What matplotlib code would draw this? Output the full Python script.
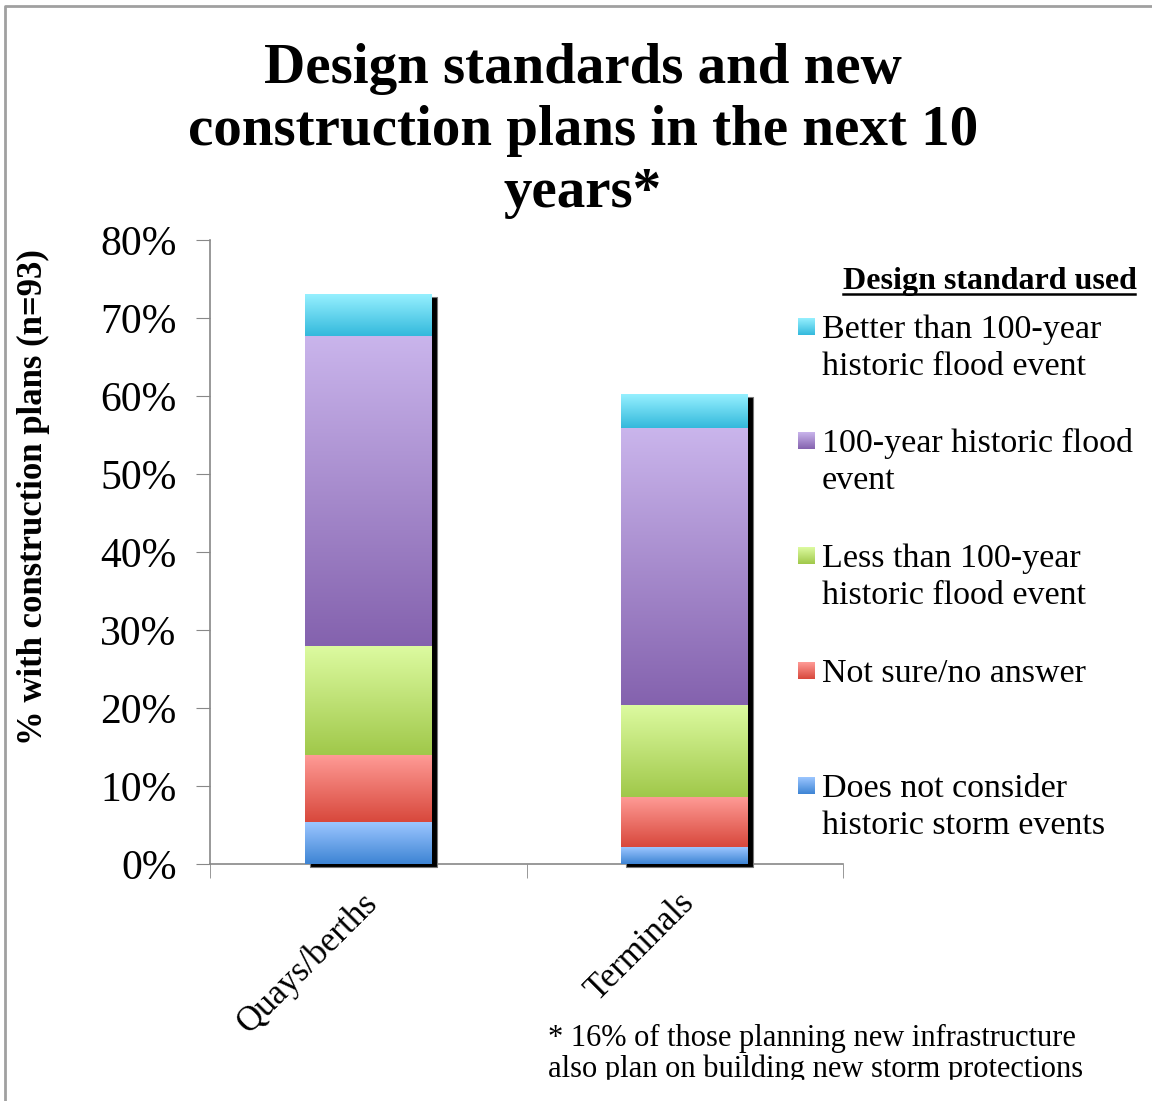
import numpy as np
import matplotlib
matplotlib.use("Agg")
import matplotlib.pyplot as plt
from matplotlib.colors import LinearSegmentedColormap
from matplotlib.transforms import offset_copy, ScaledTranslation
from matplotlib.ticker import FuncFormatter, FixedLocator

# data (percent of n=93)
categories = ["Quays/berths", "Terminals"]
does_not_consider = [5.38, 2.15]
not_sure = [8.60, 6.45]
less_than_100 = [13.98, 11.83]
equal_100 = [39.78, 35.48]
better_than_100 = [5.38, 4.30]

series = [does_not_consider, not_sure, less_than_100, equal_100, better_than_100]
series_labels = [
    "Does not consider\nhistoric storm events",
    "Not sure/no answer",
    "Less than 100-year\nhistoric flood event",
    "100-year historic flood\nevent",
    "Better than 100-year\nhistoric flood event",
]
# gradient colours: (top, bottom)
series_colors = [
    ("#9CC6FF", "#3D84D4"),
    ("#FF9C97", "#D8483C"),
    ("#DDFBA1", "#A0C84A"),
    ("#CAB5EC", "#8462AE"),
    ("#96F0FF", "#33B9DC"),
]

FONT = "Liberation Serif"
W, H = 1152, 1101
fig = plt.figure(figsize=(W / 100, H / 100), dpi=100)
ax = fig.add_axes([210 / W, 1 - 864 / H, 633 / W, 624 / H])

GRAD = np.linspace(0, 1, 256).reshape(-1, 1)


def gradient_rect(axis, x0, y0, w, h, c_top, c_bot, z=3):
    cmap = LinearSegmentedColormap.from_list("g", [c_bot, c_top])
    axis.imshow(GRAD, cmap=cmap, origin="lower", aspect="auto",
                extent=[x0, x0 + w, y0, y0 + h], zorder=z, interpolation="bilinear")


x = np.arange(len(categories))
width = 0.4
totals = np.sum(series, axis=0)

# shadow behind each stacked bar
shadow_tr = offset_copy(ax.transData, fig=fig, x=5, y=-3, units="dots")
ax.bar(x, totals, width, color="black", edgecolor="#777777", linewidth=0.8,
       transform=shadow_tr, zorder=1, clip_on=False)

bottom = np.zeros(len(categories))
for vals, (ctop, cbot) in zip(series, series_colors):
    bars = ax.bar(x, vals, width, bottom=bottom, color="none", linewidth=0, zorder=3)
    for b in bars:
        gradient_rect(ax, b.get_x(), b.get_y(), b.get_width(), b.get_height(), ctop, cbot)
    bottom += np.array(vals)

ax.set_xlim(-0.5, 1.5)
ax.set_ylim(0, 80)
ax.set_yticks(np.arange(0, 81, 10))
ax.yaxis.set_major_formatter(FuncFormatter(lambda v, _p: f"{v:.0f}%"))
ax.tick_params(axis="y", direction="out", length=10, color="#888888",
               labelsize=30, pad=14)
ax.set_xticks(x)
ax.set_xticklabels(categories, rotation=45, ha="right", rotation_mode="anchor",
                   fontsize=25, fontfamily=FONT)
ax.tick_params(axis="x", which="major", length=0, pad=16)
ax.xaxis.set_minor_locator(FixedLocator([-0.5, 0.5, 1.5]))
ax.tick_params(axis="x", which="minor", direction="out", length=10, color="#888888")
for lbl in ax.get_xticklabels():
    lbl.set_transform(lbl.get_transform() + ScaledTranslation(-0.07, 0, fig.dpi_scale_trans))
for lbl in ax.get_yticklabels():
    lbl.set_fontfamily(FONT)
for s in ["top", "right"]:
    ax.spines[s].set_visible(False)
for s in ["left", "bottom"]:
    ax.spines[s].set_color("#888888")
    ax.spines[s].set_linewidth(1.2)
    ax.spines[s].set_zorder(0.5)

# title and y label
fig.text(583 / W, 1 - 131 / H,
         "Design standards and new\nconstruction plans in the next 10\nyears*",
         ha="center", va="center", fontsize=41, fontweight="bold",
         fontfamily=FONT, linespacing=1.24)
fig.text(33 / W, 1 - 497 / H, "% with construction plans (n=93)", rotation=90,
         ha="center", va="center", fontsize=25, fontweight="bold", fontfamily=FONT)

# overlay in pixel coordinates for legend, footnote and frame
ov = fig.add_axes([0, 0, 1, 1], zorder=5)
ov.set_xlim(0, W)
ov.set_ylim(H, 0)
ov.axis("off")

ov.text(843, 289, "Design standard used", ha="left", va="baseline",
        fontsize=23, fontweight="bold", fontfamily=FONT)
ov.plot([843, 1135], [294, 294], color="black", lw=1.8)

baselines = [797, 682, 567, 452, 338]
for lab, (ctop, cbot), yb in zip(series_labels, series_colors, baselines):
    gradient_rect(ov, 798, yb - 3, 17, -17, ctop, cbot, z=6)
    for i, line in enumerate(lab.split("\n")):
        ov.text(822, yb + 37 * i, line, ha="left", va="baseline",
                fontsize=24.5, fontfamily=FONT)

ov.text(548, 1046, "* 16% of those planning new infrastructure", ha="left",
        va="baseline", fontsize=22, fontfamily=FONT)
ov.text(548, 1077, "also plan on building new storm protections", ha="left",
        va="baseline", fontsize=22, fontfamily=FONT)
ov.add_patch(plt.Rectangle((12, 1080), W, 30, color="white", zorder=10))

ov.plot([5, 5, W], [H, 6, 6], color="#A0A0A0", lw=2, zorder=11)

fig.savefig("out.png", dpi=100)
